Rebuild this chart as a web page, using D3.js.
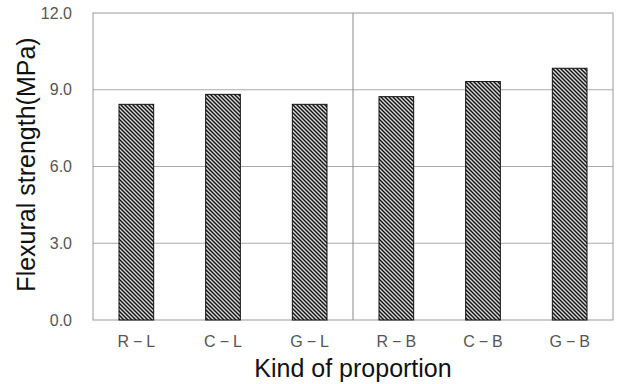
<!DOCTYPE html>
<html><head><meta charset="utf-8">
<script src="https://cdn.jsdelivr.net/npm/d3@7"></script>
<style>body{margin:0;background:#fff}svg{display:block}</style>
</head><body>
<script>
const categories = ["R−L","C−L","G−L","R−B","C−B","G−B"];
const values = [8.43, 8.82, 8.43, 8.73, 9.32, 9.84];
const yTicks = [0, 3, 6, 9, 12];

const W = 619, H = 384;
const m = {left: 93, right: 6, top: 13, bottom: 64};
const FONT = "'Liberation Sans', Arial, sans-serif";
const svg = d3.select("body").append("svg").attr("width", W).attr("height", H);

const defs = svg.append("defs");
const pat = defs.append("pattern").attr("id","hatch").attr("patternUnits","userSpaceOnUse")
  .attr("width",4).attr("height",4);
pat.append("rect").attr("width",4).attr("height",4).attr("fill","#d8d8d8");
pat.append("path").attr("d","M-1,-1L5,5M-1,3L1,5M3,-1L5,1").attr("stroke","#111").attr("stroke-width",1.4);

const x = d3.scaleBand().domain(categories).range([m.left, W - m.right]).paddingInner(0.6).paddingOuter(0.3);
const y = d3.scaleLinear().domain([0, 12]).range([H - m.bottom, m.top]);

// gridlines
svg.append("g").selectAll("line").data(yTicks.filter(d => d > 0 && d < 12)).join("line")
  .attr("x1", m.left).attr("x2", W - m.right)
  .attr("y1", d => y(d)).attr("y2", d => y(d))
  .attr("stroke", "#aaa").attr("stroke-width", 1);

// middle separator
const midX = (x("G−L") + x.bandwidth()/2 + x("R−B") + x.bandwidth()/2) / 2;
svg.append("line").attr("x1", midX).attr("x2", midX).attr("y1", y(12)).attr("y2", y(0))
  .attr("stroke", "#888").attr("stroke-width", 1);

// border
svg.append("rect").attr("x", m.left).attr("y", y(12)).attr("width", W - m.right - m.left)
  .attr("height", y(0) - y(12)).attr("fill", "none").attr("stroke", "#999").attr("stroke-width", 1);

// bars
svg.append("g").selectAll("rect").data(categories).join("rect")
  .attr("x", d => x(d)).attr("width", x.bandwidth())
  .attr("y", (d, i) => y(values[i])).attr("height", (d, i) => y(0) - y(values[i]))
  .attr("fill", "url(#hatch)").attr("stroke", "#111").attr("stroke-width", 1);

// y axis tick labels
const yAxis = d3.axisLeft(y).tickValues(yTicks).tickFormat(d3.format(".1f")).tickSize(0).tickPadding(21);
const ga = svg.append("g").attr("transform", `translate(${m.left},0)`).call(yAxis);
ga.select(".domain").remove();
ga.selectAll("text").attr("font-family", FONT).attr("font-size", 16).attr("fill", "#555");

// x axis labels
const xAxis = d3.axisBottom(x).tickSize(0).tickPadding(16);
const gx = svg.append("g").attr("transform", `translate(0,${y(0)})`).call(xAxis);
gx.select(".domain").remove();
gx.selectAll("text").attr("font-family", FONT).attr("font-size", 16)
  .attr("fill", "#555").attr("letter-spacing", "4px").attr("dx", "2px");

// axis titles
svg.append("text").attr("transform", `translate(35,${(y(0)+y(12))/2 - 2}) rotate(-90)`)
  .attr("text-anchor", "middle").attr("font-family", FONT)
  .attr("font-size", 25).attr("fill", "#111").text("Flexural strength(MPa)");
svg.append("text").attr("x", (m.left + W - m.right)/2).attr("y", 377)
  .attr("text-anchor", "middle").attr("font-family", FONT)
  .attr("font-size", 25).attr("fill", "#111").text("Kind of proportion");
</script>
</body></html>
